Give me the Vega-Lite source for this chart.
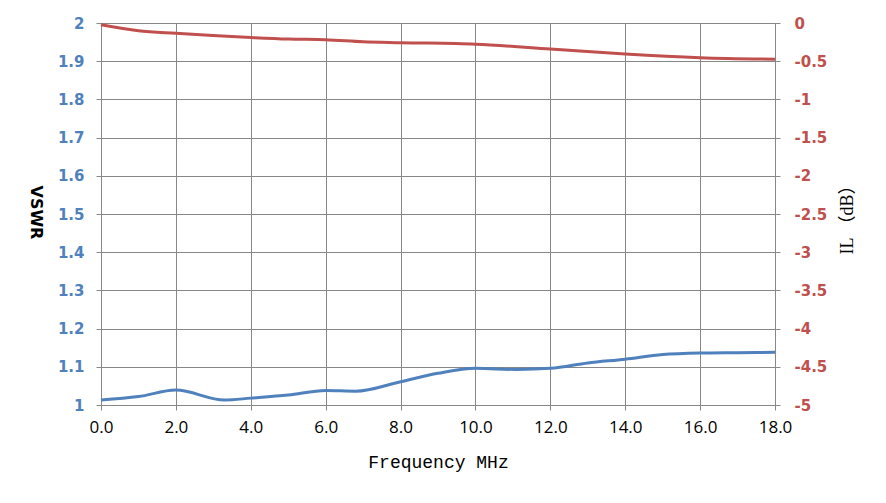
{
  "$schema": "https://vega.github.io/schema/vega-lite/v6.json",
  "autosize": {"type": "none"},
  "padding": {"left": 101, "top": 23, "right": 111, "bottom": 98},
  "width": 674,
  "height": 382,
  "background": "white",
  "config": {
    "view": {"stroke": null},
    "axis": {
      "gridColor": "#878787",
      "gridOpacity": 1,
      "domainColor": "#878787",
      "tickColor": "#878787",
      "tickSize": 5
    }
  },
  "datasets": {
    "vswr": [
      {"f": 0, "v": 1.013},
      {"f": 1.0, "v": 1.022},
      {"f": 2.0, "v": 1.039},
      {"f": 3.3, "v": 1.013},
      {"f": 4.0, "v": 1.018},
      {"f": 5.0, "v": 1.026},
      {"f": 6.0, "v": 1.038},
      {"f": 6.8, "v": 1.036},
      {"f": 8.0, "v": 1.061},
      {"f": 9.0, "v": 1.083},
      {"f": 10.0, "v": 1.096},
      {"f": 11.1, "v": 1.093},
      {"f": 12.0, "v": 1.096},
      {"f": 13.0, "v": 1.11},
      {"f": 14.0, "v": 1.12},
      {"f": 15.0, "v": 1.132},
      {"f": 16.0, "v": 1.136},
      {"f": 17.0, "v": 1.137},
      {"f": 18.0, "v": 1.138}
    ],
    "il": [
      {"f": 0, "db": -0.022},
      {"f": 1.0, "db": -0.1},
      {"f": 2.0, "db": -0.135},
      {"f": 4.0, "db": -0.19},
      {"f": 5.0, "db": -0.21},
      {"f": 6.0, "db": -0.218},
      {"f": 7.0, "db": -0.245},
      {"f": 8.0, "db": -0.257},
      {"f": 10.0, "db": -0.278},
      {"f": 12.0, "db": -0.34},
      {"f": 14.0, "db": -0.406},
      {"f": 16.0, "db": -0.454},
      {"f": 18.0, "db": -0.475}
    ]
  },
  "layer": [
    {
      "data": {"name": "vswr"},
      "mark": {"type": "line", "color": "#4F81BD", "strokeWidth": 3, "interpolate": "monotone"},
      "encoding": {
        "x": {
          "field": "f",
          "type": "quantitative",
          "scale": {"domain": [0, 18], "nice": false},
          "axis": {
            "values": [0, 2, 4, 6, 8, 10, 12, 14, 16, 18],
            "format": ".1f",
            "labelFlush": false,
            "grid": true,
            "title": "Frequency MHz",
            "titleFont": "Liberation Mono",
            "titleFontSize": 18,
            "titleFontWeight": "normal",
            "titleColor": "black",
            "titlePadding": 18,
            "labelFont": "Open Sans",
            "labelFontSize": 17,
            "labelColor": "black",
            "labelPadding": 9
          }
        },
        "y": {
          "field": "v",
          "type": "quantitative",
          "scale": {"domain": [1, 2], "nice": false, "zero": false},
          "axis": {
            "values": [1, 1.1, 1.2, 1.3, 1.4, 1.5, 1.6, 1.7, 1.8, 1.9, 2],
            "format": "~g",
            "labelFlush": false,
            "grid": true,
            "title": "VSWR",
            "titleAngle": 90,
            "titleX": -66,
            "titleY": 189,
            "titleAlign": "center",
            "titleBaseline": "middle",
            "titleFont": "DejaVu Sans",
            "titleFontSize": 16,
            "titleFontWeight": "bold",
            "titleColor": "black",
            "labelFont": "DejaVu Sans",
            "labelFontSize": 15,
            "labelFontWeight": "bold",
            "labelColor": "#4F81BD",
            "labelPadding": 12
          }
        }
      }
    },
    {
      "data": {"name": "il"},
      "mark": {"type": "line", "color": "#C0504D", "strokeWidth": 3, "interpolate": "monotone"},
      "encoding": {
        "x": {"field": "f", "type": "quantitative"},
        "y": {
          "field": "db",
          "type": "quantitative",
          "scale": {"domain": [-5, 0], "nice": false},
          "axis": {
            "orient": "right",
            "values": [-5, -4.5, -4, -3.5, -3, -2.5, -2, -1.5, -1, -0.5, 0],
            "labelExpr": "datum.value == 0 ? '0' : '-' + format(abs(datum.value), '~g')",
            "labelFlush": false,
            "grid": false,
            "title": "IL （dB）",
            "titleAngle": 270,
            "titleX": 72,
            "titleY": 192,
            "titleAlign": "center",
            "titleBaseline": "middle",
            "titleFont": "Liberation Serif, Noto Sans CJK SC",
            "titleFontSize": 18,
            "titleFontWeight": "normal",
            "titleColor": "black",
            "labelFont": "DejaVu Sans",
            "labelFontSize": 15,
            "labelFontWeight": "bold",
            "labelColor": "#C0504D",
            "labelPadding": 14
          }
        }
      }
    }
  ],
  "resolve": {"scale": {"y": "independent"}}
}
